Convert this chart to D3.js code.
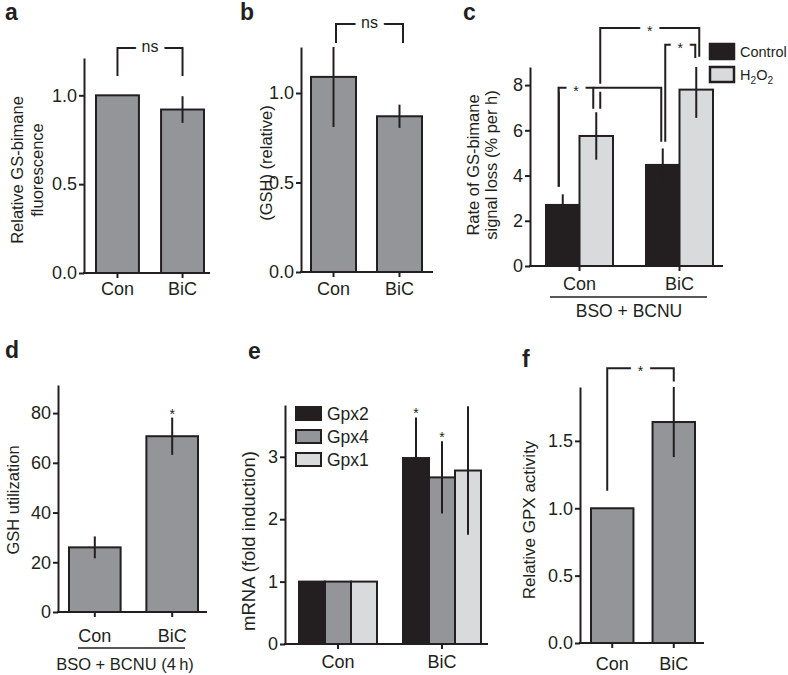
<!DOCTYPE html>
<html>
<head>
<meta charset="utf-8">
<script src="https://cdn.jsdelivr.net/npm/d3@7"></script>
<style>
  body { margin: 0; background: #fff; }
  svg text { font-family: "Liberation Sans", Arial, sans-serif; fill: #231f20; }
  .axis .domain, .axis .tick line { stroke: #231f20; stroke-width: 2; }
  .axis .tick text { font-size: 18px; }
</style>
</head>
<body>
<svg></svg>
<script>
// ---- data ----
const cats = ["Con", "BiC"];

const aValues = [1.0, 0.92];
const aErrors = [0, 0.075];
const aTicks = [0, 0.5, 1.0];

const bValues = [1.09, 0.87];
const bErrors = [0.28, 0.065];
const bTicks = [0, 0.5, 1.0];

const cSeries = ["Control", "H2O2"];
const cControl = [2.7, 4.47];
const cControlErr = [0.47, 0.73];
const cH2O2 = [5.75, 7.8];
const cH2O2Err = [1.05, 1.25];
const cTicks = [0, 2, 4, 6, 8];

const dValues = [26, 70.7];
const dErrors = [4.4, 7.5];
const dTicks = [0, 20, 40, 60, 80];

const eSeries = ["Gpx2", "Gpx4", "Gpx1"];
const eGpx2 = [1.0, 2.98];
const eGpx2Err = [0, 0.65];
const eGpx4 = [1.0, 2.67];
const eGpx4Err = [0, 0.58];
const eGpx1 = [1.0, 2.78];
const eGpx1Err = [0, 1.03];
const eTicks = [0, 1, 2, 3];

const fValues = [1.0, 1.64];
const fErrors = [0, 0.26];
const fTicks = [0, 0.5, 1.0, 1.5];

// significance brackets, heights in data units
const aBrackets = [{ from: ["Con", "v"], to: ["BiC", "v"], top: 1.266, ends: [1.109, 1.109], dx: [0, 0], label: "ns" }];
const bBrackets = [{ from: ["Con", "v"], to: ["BiC", "v"], top: 1.385, ends: [1.28, 1.28], dx: [2.5, 3.5], label: "ns" }];
const cBrackets = [
  { from: ["Con", "H2O2"], to: ["BiC", "H2O2"], top: 10.53, ends: [6.95, 9.25], dx: [4, 3], label: "*" },
  { from: ["BiC", "Control"], to: ["BiC", "H2O2"], top: 9.78, ends: [5.49, 9.2], dx: [2.5, -1], label: "*" },
  { from: ["Con", "Control"], to: ["BiC", "Control"], top: 7.88, ends: [3.5, 5.49], dx: [-4, -1.5], label: "" },
  { from: ["Con", "Control"], to: ["Con", "H2O2"], top: 7.88, ends: [3.5, 6.95], dx: [-4, -3], label: "*" }
];
const fBrackets = [{ from: ["Con", "v"], to: ["BiC", "v"], top: 2.04, ends: [1.13, 1.94], dx: [-5, 0], label: "*" }];
const dStars = [["BiC", "v"]];
const eStars = [["BiC", "Gpx2"], ["BiC", "Gpx4"]];

const GRAY = "#939598", BLACK = "#231f20", LIGHT = "#d9dadc", INK = "#231f20";

const svg = d3.select("svg").attr("width", 788).attr("height", 675);

function drawPanel(p) {
  const g = svg.append("g");
  const y = d3.scaleLinear().domain([0, p.yMax]).range([p.y0, p.y1]);
  const x = d3.scaleBand().domain(cats).range(p.barRange).paddingInner(p.pad);
  const xs = d3.scaleBand().domain(p.series.map(s => s.name)).range([0, x.bandwidth()]);
  const cx = (c, s) => x(c) + xs(s) + xs.bandwidth() / 2;

  // bars
  p.series.forEach(s => {
    const rows = cats.map((c, i) => ({ c, v: s.values[i], e: s.errors[i] }));
    g.selectAll(null).data(rows).join("rect")
      .attr("x", d => x(d.c) + xs(s.name))
      .attr("y", d => y(d.v))
      .attr("width", xs.bandwidth())
      .attr("height", d => y(0) - y(d.v))
      .attr("fill", s.color)
      .attr("stroke", INK)
      .attr("stroke-width", 2);

    g.selectAll(null).data(rows.filter(d => d.e > 0)).join("line")
      .attr("x1", d => cx(d.c, s.name)).attr("x2", d => cx(d.c, s.name))
      .attr("y1", d => y(d.v - d.e))
      .attr("y2", d => y(Math.min(d.v + d.e, p.yMax)))
      .attr("stroke", INK).attr("stroke-width", 2);
  });

  // axes
  g.append("g").attr("class", "axis")
    .attr("transform", `translate(${p.axisX},0)`)
    .call(d3.axisLeft(y).tickValues(p.ticks).tickFormat(d3.format(p.fmt))
      .tickSize(5).tickPadding(2).tickSizeOuter(0));

  const xa = g.append("g").attr("class", "axis")
    .attr("transform", `translate(0,${p.y0})`)
    .call(d3.axisBottom(x).tickSize(5).tickPadding(p.labPad).tickSizeOuter(0));
  xa.select(".domain").attr("d", `M${p.axisX - 1},0H${p.xEnd}`);

  // stars above bars
  (p.stars || []).forEach(([c, sName]) => {
    const s = p.series.find(d => d.name === sName);
    const i = cats.indexOf(c);
    g.append("text")
      .attr("x", cx(c, sName))
      .attr("y", y(s.values[i] + s.errors[i]) + 1)
      .attr("text-anchor", "middle")
      .attr("font-size", 14)
      .text("*");
  });

  // brackets
  (p.brackets || []).forEach(b => {
    const xl = cx(b.from[0], b.from[1]) + b.dx[0];
    const xr = cx(b.to[0], b.to[1]) + b.dx[1];
    const yt = y(b.top);
    g.append("path")
      .attr("d", `M${xl},${yt}H${xr}`)
      .attr("stroke", "#fff").attr("stroke-width", 8).attr("fill", "none");
    g.append("path")
      .attr("d", `M${xl},${y(b.ends[0])}V${yt}H${xr}V${y(b.ends[1])}`)
      .attr("stroke", INK).attr("stroke-width", 2).attr("fill", "none");
    if (b.label) {
      const star = b.label === "*";
      g.append("text")
        .attr("x", (xl + xr) / 2)
        .attr("y", yt + (star ? 8 : 4))
        .attr("text-anchor", "middle")
        .attr("font-size", star ? 14 : 16)
        .attr("stroke", "#fff")
        .attr("stroke-width", star ? 14 : 13)
        .attr("stroke-linejoin", "round")
        .attr("paint-order", "stroke")
        .text(b.label);
    }
  });

  // axis title
  p.title.forEach((t, i) => {
    g.append("text")
      .attr("transform", `translate(${p.tx[i]},${p.ty}) rotate(-90)`)
      .attr("dy", "0.35em")
      .attr("text-anchor", "middle")
      .attr("font-size", p.titleSize || 16.5)
      .text(t);
  });

  // panel letter
  g.append("text")
    .attr("x", p.lx).attr("y", p.ly)
    .attr("font-size", 23).attr("font-weight", "bold")
    .text(p.letter);

  // group label under the categories
  if (p.group) {
    g.append("line")
      .attr("x1", p.group.x1).attr("x2", p.group.x2)
      .attr("y1", p.group.y).attr("y2", p.group.y)
      .attr("stroke", INK).attr("stroke-width", 1.5);
    g.append("text")
      .attr("x", p.group.tx).attr("y", p.group.ty)
      .attr("text-anchor", "middle")
      .attr("font-size", p.group.size)
      .text(p.group.text);
  }

  // legend
  if (p.legend) {
    const L = p.legend;
    p.series.forEach((s, i) => {
      const top = L.y + i * L.step;
      g.append("rect")
        .attr("x", L.x).attr("y", top)
        .attr("width", L.w).attr("height", L.h)
        .attr("fill", s.color).attr("stroke", INK).attr("stroke-width", L.sw);
      const t = g.append("text")
        .attr("x", L.x + L.w + 6).attr("y", top + L.h / 2 + L.size * 0.36)
        .attr("font-size", L.size);
      if (s.name === "H2O2") {
        t.append("tspan").text("H");
        t.append("tspan").attr("font-size", L.size * 0.7).attr("dy", 4).text("2");
        t.append("tspan").attr("dy", -4).text("O");
        t.append("tspan").attr("font-size", L.size * 0.7).attr("dy", 4).text("2");
      } else {
        t.text(s.name);
      }
    });
  }
}

drawPanel({
  letter: "a", lx: 5, ly: 20,
  series: [{ name: "v", values: aValues, errors: aErrors, color: GRAY }],
  yMax: 1.21, y0: 273, y1: 58, axisX: 84, xEnd: 210,
  barRange: [96, 204], pad: 0.34, ticks: aTicks, fmt: ".1f", labPad: 4,
  title: ["Relative GS-bimane", "fluorescence"], tx: [17, 37], ty: 170,
  brackets: aBrackets
});

drawPanel({
  letter: "b", lx: 240, ly: 20,
  series: [{ name: "v", values: bValues, errors: bErrors, color: GRAY }],
  yMax: 1.257, y0: 272, y1: 47, axisX: 301, xEnd: 433,
  barRange: [311, 422], pad: 0.318, ticks: bTicks, fmt: ".1f", labPad: 5,
  title: ["(GSH) (relative)"], tx: [266], ty: 163,
  brackets: bBrackets
});

drawPanel({
  letter: "c", lx: 463, ly: 20,
  series: [
    { name: "Control", values: cControl, errors: cControlErr, color: BLACK },
    { name: "H2O2", values: cH2O2, errors: cH2O2Err, color: LIGHT }
  ],
  yMax: 8.8, y0: 266, y1: 67, axisX: 530, xEnd: 723,
  barRange: [546, 713], pad: 0.33, ticks: cTicks, fmt: "d", labPad: 6,
  title: ["Rate of GS-bimane", "signal loss (% per h)"], tx: [473, 491], ty: 165,
  brackets: cBrackets,
  group: { x1: 550, x2: 707, y: 297, tx: 629, ty: 317, size: 17.5, text: "BSO + BCNU" },
  legend: { x: 710, y: 44, step: 23, w: 24, h: 15, sw: 2.5, size: 14.5 }
});

drawPanel({
  letter: "d", lx: 5, ly: 358,
  series: [{ name: "v", values: dValues, errors: dErrors, color: GRAY }],
  yMax: 91.3, y0: 612, y1: 385, axisX: 58, xEnd: 207,
  barRange: [69, 198], pad: 0.333, ticks: dTicks, fmt: "d", labPad: 12,
  title: ["GSH utilization"], tx: [13], ty: 500,
  stars: dStars,
  group: { x1: 78, x2: 185, y: 648, tx: 125, ty: 670, size: 16.5, text: "BSO + BCNU (4\u2009h)" }
});

drawPanel({
  letter: "e", lx: 248, ly: 359,
  series: [
    { name: "Gpx2", values: eGpx2, errors: eGpx2Err, color: BLACK },
    { name: "Gpx4", values: eGpx4, errors: eGpx4Err, color: GRAY },
    { name: "Gpx1", values: eGpx1, errors: eGpx1Err, color: LIGHT }
  ],
  yMax: 3.83, y0: 644, y1: 405, axisX: 285, xEnd: 488,
  barRange: [299, 481], pad: 0.25, ticks: eTicks, fmt: "d", labPad: 6,
  title: ["mRNA (fold induction)"], tx: [249], ty: 541, titleSize: 18.5,
  stars: eStars,
  legend: { x: 296, y: 407, step: 23, w: 25, h: 13, sw: 2, size: 17.5 }
});

drawPanel({
  letter: "f", lx: 522, ly: 367,
  series: [{ name: "v", values: fValues, errors: fErrors, color: GRAY }],
  yMax: 1.90, y0: 643, y1: 387, axisX: 580, xEnd: 704,
  barRange: [591, 695], pad: 0.31, ticks: fTicks, fmt: ".1f", labPad: 9,
  title: ["Relative GPX activity"], tx: [529], ty: 520, titleSize: 17,
  brackets: fBrackets
});
</script>
</body>
</html>
